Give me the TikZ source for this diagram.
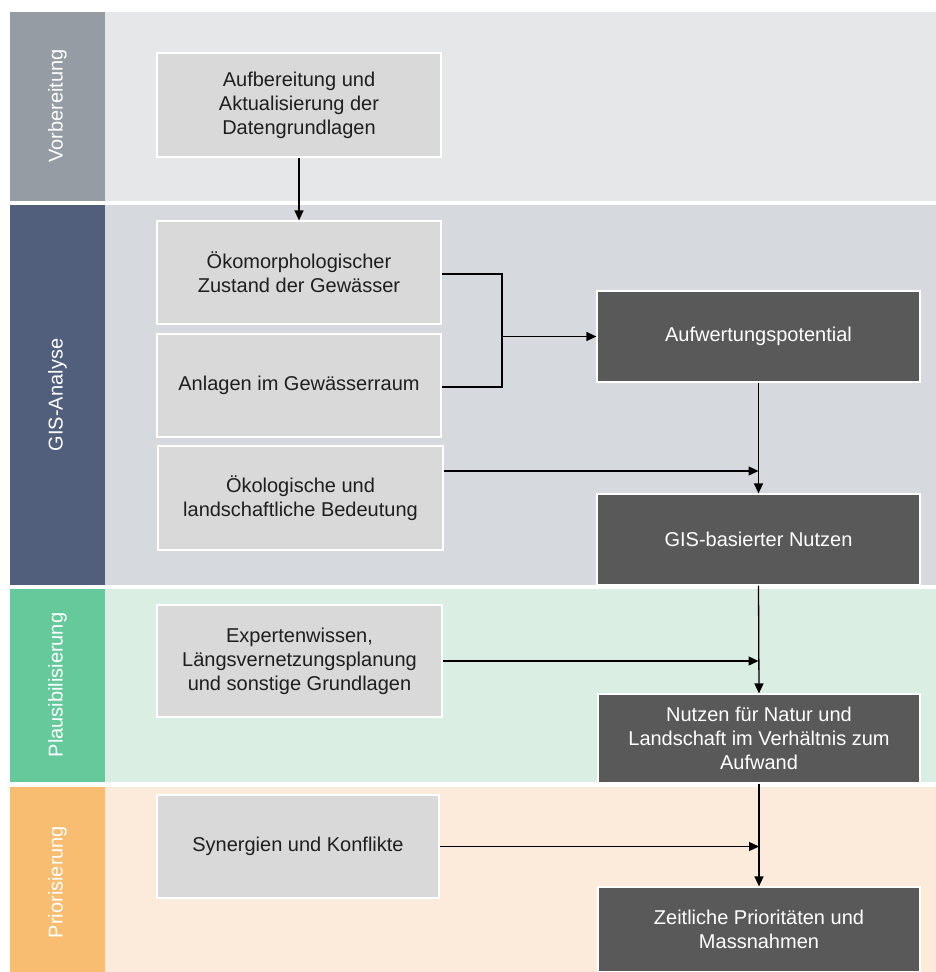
\documentclass[tikz,border=0pt]{standalone}
\usepackage{fontspec}
\setmainfont{Liberation Sans}
\usetikzlibrary{arrows.meta}
\definecolor{stripA}{HTML}{959CA4}
\definecolor{bandA}{HTML}{E5E7E9}
\definecolor{stripB}{HTML}{515F7C}
\definecolor{bandB}{HTML}{D6DADF}
\definecolor{stripC}{HTML}{66C99B}
\definecolor{bandC}{HTML}{DBEEE3}
\definecolor{stripD}{HTML}{F8BD71}
\definecolor{bandD}{HTML}{FCEADB}
\definecolor{lightbox}{HTML}{D9D9D9}
\definecolor{darkbox}{HTML}{595959}
\definecolor{txtdark}{HTML}{1E1E1E}
\begin{document}
\begin{tikzpicture}[x=1pt,y=-1pt,
  lbox/.style={draw=white, line width=1.2pt, fill=lightbox, text=txtdark, align=center,
    inner sep=0pt, font=\fontsize{20}{24}\selectfont},
  dbox/.style={draw=white, line width=1.2pt, fill=darkbox, text=white, align=center,
    inner sep=0pt, font=\fontsize{20}{24}\selectfont},
  striplabel/.style={rotate=90, text=white, font=\fontsize{20}{24}\selectfont, inner sep=0pt},
  conn/.style={line width=1.3pt, black},
  arr/.style={conn, -{Triangle[length=10pt,width=9pt]}}]
\useasboundingbox (0,0) rectangle (936,972);
\fill[white] (0,0) rectangle (936,972);
% bands
\fill[bandA] (105,12) rectangle (936,201);
\fill[stripA] (10,12) rectangle (105,201);
\fill[bandB] (105,205) rectangle (936,585);
\fill[stripB] (10,205) rectangle (105,585);
\fill[bandC] (105,589) rectangle (936,782);
\fill[stripC] (10,589) rectangle (105,782);
\fill[bandD] (105,787) rectangle (936,972);
\fill[stripD] (10,787) rectangle (105,972);
\node[striplabel] (sA) at (57.5,106) {Vorbereitung};
\node[striplabel] (sB) at (57.5,395) {GIS-Analyse};
\node[striplabel] (sC) at (57.5,685) {Plausibilisierung};
\node[striplabel] (sD) at (57.5,882) {Priorisierung};
% light boxes
\node[lbox, minimum width=284pt, minimum height=104pt] (B1) at (299,105) {Aufbereitung und\\Aktualisierung der\\Datengrundlagen};
\node[lbox, minimum width=284pt, minimum height=103pt] (B2) at (299,272.5) {Ökomorphologischer\\Zustand der Gewässer};
\node[lbox, minimum width=284pt, minimum height=103pt] (B3) at (299,385.5) {Anlagen im Gewässerraum};
\node[lbox, minimum width=285pt, minimum height=104pt] (B4) at (300.5,498) {Ökologische und\\landschaftliche Bedeutung};
\node[lbox, minimum width=285pt, minimum height=112pt] (B5) at (299.5,661) {Expertenwissen,\\Längsvernetzungsplanung\\und sonstige Grundlagen};
\node[lbox, minimum width=282pt, minimum height=103pt] (B6) at (298,846.5) {Synergien und Konflikte};
% dark boxes
\node[dbox, minimum width=323pt, minimum height=91pt] (D1) at (758.5,336.5) {Aufwertungspotential};
\node[dbox, minimum width=323pt, minimum height=91pt] (D2) at (758.5,539.5) {GIS-basierter Nutzen};
\node[dbox, minimum width=322pt, minimum height=89pt] (D3) at (759,738.5) {Nutzen für Natur und\\Landschaft im Verhältnis zum\\Aufwand};
\node[dbox, minimum width=322pt, minimum height=85pt] (D4) at (759,929.5) {Zeitliche Prioritäten und\\Massnahmen};
% connectors
\coordinate (J) at (502,336.5);
\coordinate (B4out) at ([yshift=27pt]B4.east);
\draw[arr] (B1.south) -- (B2.north);
\draw[conn] ([yshift=-1.5pt]B2.east) -| (J);
\draw[conn] ([yshift=-1.5pt]B3.east) -| (J);
\draw[arr] (J) -- (D1.west);
\draw[arr] (D1.south) -- (D2.north);
\draw[arr] (B4out) -- (B4out -| D1.south);
\draw[arr] (D2.south) -- (D3.north);
\draw[arr] (B5.east) -- (B5.east -| D2.south);
\draw[arr] (D3.south) -- (D4.north);
\draw[arr] (B6.east) -- (B6.east -| D3.south);
\end{tikzpicture}
\end{document}
